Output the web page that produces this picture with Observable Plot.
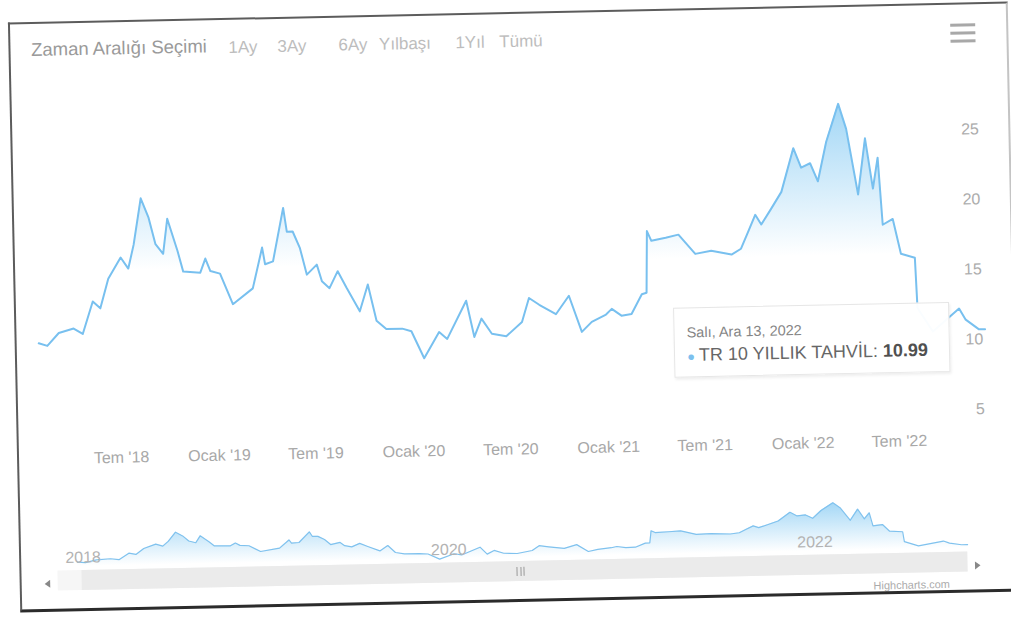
<!DOCTYPE html>
<html><head><meta charset="utf-8">
<script src="https://cdn.jsdelivr.net/npm/d3@7"></script>
<script src="https://cdn.jsdelivr.net/npm/@observablehq/plot@0.6"></script>
<style>
html,body{margin:0;padding:0;background:#fff;}
body{width:1011px;height:618px;overflow:hidden;position:relative;font-family:"Liberation Sans",Arial,sans-serif;}
#card{position:absolute;left:14px;top:11.5px;width:1000px;height:590px;background:#fff;transform:rotate(-1.2deg);transform-origin:50% 50%;}
#frame{position:absolute;left:0;top:0;right:0;bottom:0;border:2px solid #5c5c5c;border-bottom:3px solid #2b2b2b;border-right:2px solid #c4c4c4;box-sizing:border-box;pointer-events:none;}
.abs{position:absolute;white-space:nowrap;}
.vc{transform:translateY(-50%);}
.hc{transform:translate(-50%,-50%);}
#rlabel{left:22.5px;top:28px;font-size:18.5px;color:#9a9a9a;}
.rbtn{top:30px;font-size:17px;color:#bdbdbd;}
.bar{position:absolute;left:942px;width:25px;height:3px;background:#a8a8a8;}
#tip{left:659px;top:299px;width:276px;height:70px;background:rgba(255,255,255,0.96);border:1px solid #e6e6e6;box-shadow:1px 2px 3px rgba(0,0,0,0.07);box-sizing:border-box;}
#tip1{left:12px;top:24px;font-size:14.5px;color:#858585;}
#tip2{left:12px;top:47px;font-size:18px;color:#666;}
#tip2 b{color:#505050;}
#tip2 .dot{color:#7cc0ee;font-size:13px;margin-right:4px;}
#track{left:38px;top:549px;width:910px;height:20px;background:#f6f6f6;}
#thumb{left:61.5px;top:549px;width:886px;height:20px;background:#ebebeb;}
.grip{position:absolute;top:555px;width:1px;height:9px;background:#999;}
#credit{left:930px;top:581px;font-size:11px;color:#ababab;transform:translate(-100%,-50%);}
</style></head>
<body>
<div id="card">
  <div id="mainWrap" class="abs" style="left:0;top:0"></div>
  <div id="navWrap" class="abs" style="left:0;top:470px"></div>
  <div id="rlabel" class="abs vc">Zaman Aralığı Seçimi</div>
  <div id="rbtns"></div>
  <div class="bar" style="top:21px"></div>
  <div class="bar" style="top:28.5px"></div>
  <div class="bar" style="top:36.5px"></div>
  <div id="track" class="abs"></div>
  <div id="thumb" class="abs"></div>
  <div class="grip" style="left:497px"></div>
  <div class="grip" style="left:500.5px"></div>
  <div class="grip" style="left:504px"></div>
  <svg class="abs" style="left:22px;top:556px" width="12" height="12"><path d="M8.5,2 L3,6 L8.5,10 Z" fill="#888"/></svg>
  <svg class="abs" style="left:952px;top:557px" width="12" height="12"><path d="M3.5,2 L9,6 L3.5,10 Z" fill="#888"/></svg>
  <div id="credit" class="abs">Highcharts.com</div>
  <div id="tip" class="abs">
    <div id="tip1" class="abs vc">Salı, Ara 13, 2022</div>
    <div id="tip2" class="abs vc"><span class="dot">●</span>TR 10 YILLIK TAHVİL: <b>10.99</b></div>
  </div>
  <div id="frame"></div>
</div>
<script>
// ---- data ----
const dates = ["2018-01-31","2018-02-16","2018-03-10","2018-04-07","2018-04-24","2018-05-14","2018-05-28","2018-06-13","2018-07-07","2018-07-21","2018-08-01","2018-08-16","2018-08-30","2018-09-11","2018-09-25","2018-10-04","2018-10-22","2018-11-01","2018-12-03","2018-12-13","2018-12-22",
"2019-01-09","2019-02-01","2019-03-11","2019-03-30","2019-04-04","2019-04-19","2019-05-10","2019-05-16","2019-05-27","2019-06-09","2019-06-21","2019-07-10","2019-07-19","2019-08-02","2019-08-18","2019-09-03","2019-09-27","2019-10-13","2019-10-28","2019-11-15","2019-12-15",
"2020-01-01","2020-01-24","2020-02-22","2020-03-08","2020-04-14","2020-04-28","2020-05-12","2020-05-31","2020-06-27","2020-07-27","2020-08-10","2020-08-29","2020-09-29","2020-10-24","2020-11-16","2020-12-05",
"2021-01-01","2021-01-12","2021-01-30","2021-02-18","2021-03-10","2021-03-19","2021-03-22","2021-03-30","2021-04-26","2021-05-20","2021-06-20","2021-07-20","2021-08-27","2021-09-14","2021-09-28","2021-10-12","2021-10-23","2021-11-11","2021-12-01","2021-12-25",
"2022-01-08","2022-01-25","2022-02-08","2022-02-25","2022-03-21","2022-04-04","2022-04-24","2022-05-09","2022-05-22","2022-06-01","2022-06-08","2022-06-27","2022-07-11","2022-08-06","2022-08-09","2022-09-06","2022-10-26","2022-11-07","2022-12-01","2022-12-13"];
const yields = [11.4,11.2,12.1,12.4,12.0,14.3,13.8,15.9,17.4,16.6,18.3,21.6,20.2,18.3,17.6,20.1,17.8,16.3,16.2,17.2,16.3,
16.1,13.9,15.0,17.9,16.7,16.9,20.7,19.0,19.0,17.8,15.9,16.6,15.4,14.9,16.1,14.9,13.2,15.1,12.5,11.9,11.9,
11.7,9.75,11.6,11.1,13.8,11.2,12.5,11.4,11.2,12.2,13.9,13.4,12.7,14.0,11.4,12.1,
12.6,13.0,12.5,12.6,14.0,14.1,18.5,17.8,18.0,18.2,16.8,17.0,16.7,17.1,18.3,19.5,18.8,19.9,21.1,24.2,
22.8,23.1,21.8,24.6,27.3,25.5,20.8,24.8,21.2,23.4,18.6,19.0,16.5,16.2,12.6,10.9,12.5,11.7,11.0,10.99];
const xTickDates = ["2018-07-01","2019-01-01","2019-07-01","2020-01-01","2020-07-01","2021-01-01","2021-07-01","2022-01-01","2022-07-01"];
const xTickLabels = ["Tem '18","Ocak '19","Tem '19","Ocak '20","Tem '20","Ocak '21","Tem '21","Ocak '22","Tem '22"];
const yTicks = [5,10,15,20,25];
const navTickDates = ["2018-01-01","2020-01-01","2022-01-01"];
const navTickLabels = ["2018","2020","2022"];
const rangeButtons = ["1Ay","3Ay","6Ay","Yılbaşı","1Yıl","Tümü"];

const data = dates.map((d,i)=>({date:new Date(d), value:yields[i]}));
const xTicks = xTickDates.map((d,i)=>({date:new Date(d), label:xTickLabels[i]}));
const navTicks = navTickDates.map((d,i)=>({date:new Date(d), label:navTickLabels[i]}));
const xDomain = [new Date(dates[0]), new Date(dates[dates.length-1])];
const font = '"Liberation Sans", Arial, sans-serif';
const ns = "http://www.w3.org/2000/svg";

function addGrad(svg, id, y1, y2, color, op){
  const defs = document.createElementNS(ns,"defs");
  defs.innerHTML = `<linearGradient id="${id}" gradientUnits="userSpaceOnUse" x1="0" y1="${y1}" x2="0" y2="${y2}"><stop offset="0" stop-color="${color}" stop-opacity="${op}"/><stop offset="1" stop-color="${color}" stop-opacity="0"/></linearGradient>`;
  svg.insertBefore(defs, svg.firstChild);
}

const main = Plot.plot({
  width:1000, height:450,
  marginLeft:23.6, marginRight:30, marginTop:80, marginBottom:20,
  x:{type:"utc", domain:xDomain, axis:null},
  y:{domain:[3.6,28.6], axis:null},
  style:{background:"transparent", overflow:"visible", fontFamily:font},
  marks:[
    Plot.areaY(data,{x:"date", y1:3.6, y2:"value", fill:"url(#mainGrad)"}),
    Plot.lineY(data,{x:"date", y:"value", stroke:"#78c0ef", strokeWidth:2}),
    Plot.text(xTicks,{x:"date", text:"label", frameAnchor:"bottom", dy:12, fill:"#a8a8a8", fontSize:16}),
    Plot.text(yTicks,{y:d=>d, text:d=>String(d), frameAnchor:"right", textAnchor:"end", dx:-2, dy:-4, fill:"#acacac", fontSize:16})
  ]
});
addGrad(main,"mainGrad",90,250,"#7cc6f2",0.75);
document.getElementById("mainWrap").appendChild(main);

const nav = Plot.plot({
  width:1000, height:110,
  marginLeft:57.7, marginRight:52, marginTop:27, marginBottom:35,
  x:{type:"utc", domain:xDomain, axis:null},
  y:{domain:d3.extent(yields), axis:null},
  style:{background:"transparent", overflow:"visible", fontFamily:font},
  marks:[
    Plot.areaY(data,{x:"date", y1:8.8, y2:"value", fill:"url(#navGrad)"}),
    Plot.lineY(data,{x:"date", y:"value", stroke:"#80c2ee", strokeWidth:1.2}),
    Plot.text(navTicks,{x:"date", text:"label", frameAnchor:"bottom", textAnchor:"start", dx:3, dy:-4, fill:"#b3b3b3", fontSize:16})
  ]
});
addGrad(nav,"navGrad",27,75,"#7cc6f2",0.7);
document.getElementById("navWrap").appendChild(nav);

const btnX = [234.5,283.5,344.5,396.5,461.5,512.5];
const rb = document.getElementById("rbtns");
rangeButtons.forEach((t,i)=>{
  const d = document.createElement("div");
  d.className = "abs rbtn hc";
  d.style.left = btnX[i]+"px";
  d.textContent = t;
  rb.appendChild(d);
});
</script>
</body></html>
